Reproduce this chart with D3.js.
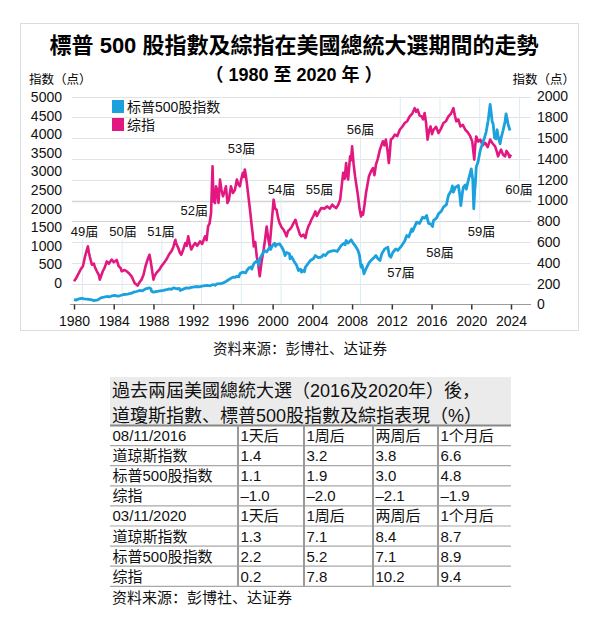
<!DOCTYPE html>
<html><head><meta charset="utf-8">
<script src="https://cdn.jsdelivr.net/npm/d3@7/dist/d3.min.js"></script>
<style>html,body{margin:0;padding:0;background:#fff}svg{display:block}</style>
</head><body>
<svg id="c" width="594" height="643"></svg>
<script>
// ---------- DATA ----------
const title = "標普 500 股指數及綜指在美國總統大選期間的走勢";
const subtitle = "（ 1980 至 2020 年 ）";
const axisTitleLeft = "指数（点）";
const axisTitleRight = "指数（点）";
const seriesNames = ["标普500股指数", "综指"];
const xTicks = [1980,1984,1988,1992,1996,2000,2004,2008,2012,2016,2020,2024];
const leftTicks = [0,500,1000,1500,2000,2500,3000,3500,4000,4500,5000];
const rightTicks = [0,200,400,600,800,1000,1200,1400,1600,1800,2000];
const rightTickLabels = ["0","200","400","600","800","1000","1200","1400","1500","1800","2000"];
// 标普500股指数 (read against right axis)
const spx = [[1980.0,48],[1980.2,42],[1980.5,55],[1980.8,60],[1981.0,54],[1981.5,50],[1981.8,44],[1982.0,38],[1982.4,45],[1982.7,64],[1983.0,70],[1983.3,77],[1983.6,74],[1983.8,82],[1984.1,87],[1984.4,80],[1984.6,84],[1985.0,96],[1985.4,100],[1985.8,109],[1986.0,118],[1986.3,125],[1986.6,135],[1986.9,132],[1987.2,150],[1987.6,160],[1987.75,150],[1987.8,128],[1988.0,119],[1988.5,128],[1989.0,135],[1989.3,142],[1989.6,150],[1989.8,146],[1990.0,160],[1990.4,150],[1990.6,155],[1990.7,135],[1990.8,140],[1991.0,148],[1991.3,160],[1991.6,158],[1991.8,165],[1992.3,173],[1992.6,170],[1992.9,176],[1993.4,183],[1993.7,180],[1994.0,192],[1994.2,185],[1994.4,199],[1994.8,200],[1995.2,215],[1995.6,240],[1996.0,263],[1996.2,260],[1996.4,272],[1996.6,266],[1996.7,295],[1997.0,312],[1997.3,305],[1997.4,327],[1997.6,350],[1997.8,360],[1997.9,340],[1998.1,391],[1998.3,410],[1998.5,420],[1998.6,375],[1998.7,439],[1999.0,490],[1999.2,519],[1999.4,505],[1999.7,551],[1999.8,530],[2000.0,570],[2000.2,590],[2000.3,560],[2000.4,575],[2000.7,583],[2000.9,555],[2001.1,519],[2001.25,470],[2001.4,500],[2001.7,487],[2001.75,440],[2001.9,460],[2002.2,407],[2002.4,380],[2002.6,327],[2002.8,340],[2002.9,311],[2003.1,330],[2003.2,315],[2003.3,359],[2003.8,423],[2004.1,440],[2004.3,471],[2004.6,450],[2004.9,455],[2005.1,480],[2005.3,470],[2005.6,503],[2006.0,515],[2006.2,519],[2006.5,510],[2006.9,567],[2007.2,590],[2007.3,575],[2007.4,615],[2007.6,590],[2007.9,622],[2008.1,590],[2008.3,567],[2008.6,519],[2008.75,470],[2008.8,430],[2008.9,359],[2009.0,380],[2009.2,295],[2009.4,343],[2009.7,400],[2009.9,423],[2010.2,450],[2010.4,471],[2010.6,440],[2010.8,423],[2011.0,490],[2011.3,535],[2011.6,551],[2011.75,470],[2011.9,455],[2012.1,500],[2012.4,535],[2012.6,520],[2013.0,567],[2013.3,610],[2013.5,663],[2013.7,650],[2014.0,727],[2014.1,705],[2014.5,792],[2014.8,780],[2015.1,840],[2015.3,830],[2015.5,856],[2015.7,780],[2015.9,776],[2016.1,750],[2016.2,808],[2016.5,830],[2016.7,872],[2017.0,900],[2017.2,936],[2017.5,960],[2017.7,1048],[2018.0,1100],[2018.1,1140],[2018.2,1080],[2018.4,1128],[2018.7,1144],[2018.85,1050],[2018.95,952],[2019.1,1070],[2019.2,1128],[2019.4,1150],[2019.5,1110],[2019.7,1192],[2020.0,1304],[2020.15,1200],[2020.25,920],[2020.35,1100],[2020.4,1150],[2020.5,1320],[2020.7,1380],[2020.9,1481],[2021.1,1540],[2021.3,1593],[2021.5,1660],[2021.7,1769],[2021.9,1923],[2022.0,1850],[2022.1,1760],[2022.2,1737],[2022.35,1600],[2022.5,1593],[2022.6,1680],[2022.7,1620],[2022.9,1545],[2023.0,1600],[2023.2,1673],[2023.4,1760],[2023.5,1833],[2023.6,1790],[2023.7,1737],[2023.9,1673]];
// 综指 (read against left axis)
const comp = [[1980.0,45],[1980.2,120],[1980.4,225],[1980.7,380],[1980.9,450],[1981.1,700],[1981.2,800],[1981.4,985],[1981.5,820],[1981.6,700],[1981.8,490],[1982.0,520],[1982.1,430],[1982.3,315],[1982.5,220],[1982.6,90],[1982.9,315],[1983.1,420],[1983.3,580],[1983.5,520],[1983.6,560],[1983.8,630],[1984.0,560],[1984.1,580],[1984.3,620],[1984.5,450],[1984.7,400],[1984.8,315],[1985.1,350],[1985.3,315],[1985.5,270],[1985.8,180],[1986.1,0],[1986.4,-70],[1986.6,20],[1986.8,90],[1987.0,220],[1987.2,450],[1987.4,620],[1987.6,760],[1987.7,620],[1987.8,450],[1988.0,90],[1988.1,180],[1988.3,270],[1988.6,360],[1988.8,450],[1989.0,520],[1989.3,630],[1989.6,780],[1989.8,850],[1990.0,960],[1990.2,1165],[1990.3,1050],[1990.5,940],[1990.65,820],[1990.8,760],[1991.0,900],[1991.2,1075],[1991.35,1000],[1991.5,1255],[1991.65,1050],[1991.8,900],[1992.0,1000],[1992.2,1075],[1992.4,1000],[1992.7,1120],[1992.9,1050],[1993.2,1255],[1993.35,1150],[1993.5,1520],[1993.65,1600],[1993.8,1880],[1993.95,3135],[1994.05,2200],[1994.2,2150],[1994.3,2600],[1994.4,2510],[1994.55,2150],[1994.7,2780],[1994.85,2500],[1995.0,2330],[1995.15,2450],[1995.3,2600],[1995.45,2150],[1995.6,2240],[1995.8,2600],[1996.0,2420],[1996.2,2500],[1996.4,2780],[1996.55,2650],[1996.7,2600],[1996.85,2800],[1997.0,2960],[1997.1,2850],[1997.2,3050],[1997.3,2900],[1997.4,2690],[1997.6,2240],[1997.75,1900],[1997.9,1520],[1998.0,1300],[1998.1,985],[1998.25,1100],[1998.4,715],[1998.55,500],[1998.7,180],[1998.9,600],[1999.1,900],[1999.25,1200],[1999.4,1520],[1999.55,1200],[1999.7,985],[1999.9,1610],[2000.1,2240],[2000.25,2000],[2000.4,1970],[2000.55,1750],[2000.7,1610],[2000.9,1500],[2001.1,1430],[2001.25,1350],[2001.4,1255],[2001.55,1400],[2001.7,1430],[2001.9,1500],[2002.1,1610],[2002.3,1700],[2002.45,1550],[2002.6,1430],[2002.75,1300],[2002.9,1255],[2003.1,1300],[2003.3,1210],[2003.45,1400],[2003.6,1520],[2003.75,1600],[2003.9,1700],[2004.1,1800],[2004.3,1925],[2004.45,1800],[2004.6,1880],[2004.75,1950],[2004.9,2015],[2005.2,2000],[2005.5,2060],[2005.75,2000],[2006.0,2105],[2006.2,2050],[2006.4,2015],[2006.6,2100],[2006.8,2240],[2006.95,2600],[2007.1,2960],[2007.25,2800],[2007.4,3225],[2007.5,2900],[2007.6,2780],[2007.7,3100],[2007.8,3405],[2007.9,3300],[2008.0,3675],[2008.15,3200],[2008.3,2870],[2008.45,2600],[2008.6,2330],[2008.75,2000],[2008.9,1790],[2009.0,1900],[2009.1,1835],[2009.25,2100],[2009.4,2420],[2009.55,2650],[2009.7,2870],[2009.9,3000],[2010.1,3090],[2010.25,2900],[2010.4,3180],[2010.6,3350],[2010.8,3585],[2010.95,3700],[2011.1,3810],[2011.25,3700],[2011.4,3855],[2011.55,3600],[2011.7,3225],[2011.8,3500],[2011.9,3855],[2012.1,3900],[2012.3,3990],[2012.55,3950],[2012.8,4120],[2013.05,4200],[2013.3,4300],[2013.55,4350],[2013.8,4480],[2014.05,4550],[2014.3,4700],[2014.45,4600],[2014.6,4660],[2014.8,4500],[2015.0,4480],[2015.15,4400],[2015.3,4570],[2015.45,4300],[2015.6,3855],[2015.75,4100],[2015.9,4210],[2016.05,4000],[2016.2,4120],[2016.45,4200],[2016.7,4030],[2016.95,4150],[2017.2,4300],[2017.45,4350],[2017.7,4480],[2017.95,4550],[2018.2,4700],[2018.35,4500],[2018.5,4345],[2018.7,4400],[2018.9,4210],[2019.15,4250],[2019.4,4120],[2019.65,4050],[2019.9,3940],[2020.1,3800],[2020.3,3315],[2020.4,3700],[2020.5,3940],[2020.7,3800],[2020.9,3855],[2021.15,3700],[2021.4,3765],[2021.65,3650],[2021.9,3855],[2022.15,3750],[2022.4,3675],[2022.55,3550],[2022.7,3405],[2022.85,3500],[2023.0,3585],[2023.2,3450],[2023.4,3405],[2023.55,3550],[2023.7,3495],[2023.85,3380],[2024.0,3450]];
// election labels (label value read against right axis), vertical guide year
const elections = [
  {label:"49届", lx:1981.06, year:1980.85, v:654, dir:"down"},
  {label:"50届", lx:1984.93, year:1984.85, v:654, dir:"down"},
  {label:"51届", lx:1988.76, year:1988.85, v:654, dir:"down"},
  {label:"52届", lx:1992.1,  year:1992.85, v:865, dir:"down"},
  {label:"53届", lx:1996.87, year:1996.85, v:1460, dir:"down"},
  {label:"54届", lx:2000.9,  year:2000.85, v:1067, dir:"down"},
  {label:"55届", lx:2004.72, year:2004.85, v:1067, dir:"down"},
  {label:"56届", lx:2008.85, year:2008.85, v:1644, dir:"down"},
  {label:"57届", lx:2012.93, year:2012.85, v:260, dir:"up"},
  {label:"58届", lx:2016.86, year:2016.85, v:452, dir:"up"},
  {label:"59届", lx:2021.04, year:2020.85, v:654, dir:"up"},
  {label:"60届", lx:2024.8,  year:2024.85, v:1058, dir:"up"}
];
const source = "资料来源：彭博社、达证券";
const tableTitle = ["過去兩屆美國總統大選（2016及2020年）後，", "道瓊斯指數、標普500股指數及綜指表現（%）"];
const tableRows = [
  ["08/11/2016","1天后","1周后","两周后","1个月后"],
  ["道琼斯指数","1.4","3.2","3.8","6.6"],
  ["标普500股指数","1.1","1.9","3.0","4.8"],
  ["综指","–1.0","–2.0","–2.1","–1.9"],
  ["03/11/2020","1天后","1周后","两周后","1个月后"],
  ["道琼斯指数","1.3","7.1","8.4","8.7"],
  ["标普500股指数","2.2","5.2","7.1","8.9"],
  ["综指","0.2","7.8","10.2","9.4"]
];

// ---------- DRAW ----------
const FONT = "'Liberation Sans', Arial, 'Noto Sans CJK SC', sans-serif";
const BLUE = "#1ba1de", MAG = "#e2177f";
const svg = d3.select("#c").style("font-family", FONT);
svg.append("rect").attr("width",594).attr("height",643).attr("fill","#fff");
svg.append("rect").attr("x",20.5).attr("y",23.5).attr("width",558).attr("height",307)
   .attr("fill","#fff").attr("stroke","#dcdcdc");

const x = d3.scaleLinear().domain([1980,2024]).range([74,511]);
const yL = d3.scaleLinear().domain([0,5000]).range([283,97]);
const yR = d3.scaleLinear().domain([0,2000]).range([304.5,96.5]);

svg.append("text").attr("x",294).attr("y",53).attr("text-anchor","middle")
  .attr("font-size",22).attr("font-weight","bold").text(title);
svg.append("text").attr("x",294).attr("y",81).attr("text-anchor","middle")
  .attr("font-size",18).attr("font-weight","bold").text(subtitle);
svg.append("text").attr("x",29).attr("y",84).attr("font-size",12.5).text(axisTitleLeft);
svg.append("text").attr("x",575).attr("y",84).attr("text-anchor","end").attr("font-size",12.5).text(axisTitleRight);

// gridlines (right axis)
svg.append("g").selectAll("line").data(rightTicks.slice(1)).join("line")
  .attr("x1",72).attr("x2",531).attr("y1",d=>Math.round(yR(d))+0.5).attr("y2",d=>Math.round(yR(d))+0.5)
  .attr("stroke",d=>(d===1000||d===800)?"#d4d4d4":"#e3e3e3").attr("stroke-width",d=>(d===1000)?1.6:1);

// election guide lines
svg.append("g").selectAll("line").data(elections).join("line")
  .attr("x1",d=>x(d.year)).attr("x2",d=>x(d.year))
  .attr("y1",d=>d.dir==="down"? yR(d.v)+3 : yR(d.v)-15)
  .attr("y2",d=>d.dir==="down"? yR(0) : yR(2000))
  .attr("stroke","#dcecf5").attr("stroke-width",1);

// axes
const axisB = d3.axisBottom(x).tickValues(xTicks).tickFormat(d3.format("d")).tickSize(5).tickPadding(4);
const gx = svg.append("g").attr("transform","translate(0,304.5)").call(axisB);
gx.select(".domain").attr("d","M70,0H531").attr("stroke","#9a9a9a");
gx.selectAll(".tick line").attr("stroke","#333").attr("stroke-width",1.5);
gx.selectAll("text").attr("font-size",14).attr("font-family",FONT).attr("fill","#111").attr("dy","0.9em");

const axisLft = d3.axisLeft(yL).tickValues(leftTicks).tickFormat(d3.format("d")).tickSize(0).tickPadding(0);
const gl = svg.append("g").attr("transform","translate(62,0)").call(axisLft);
gl.select(".domain").remove();
gl.selectAll("text").attr("font-size",14).attr("font-family",FONT).attr("fill","#111");

const axisRt = d3.axisRight(yR).tickValues(rightTicks).tickFormat((d,i)=>rightTickLabels[i]).tickSize(0).tickPadding(0);
const gr = svg.append("g").attr("transform","translate(537,0)").call(axisRt);
gr.select(".domain").remove();
gr.selectAll("text").attr("font-size",14).attr("font-family",FONT).attr("fill","#111");

// series
const lineR = d3.line().x(d=>x(d[0])).y(d=>yR(d[1]));
const lineL = d3.line().x(d=>x(d[0])).y(d=>yL(d[1]));
svg.append("path").datum(comp).attr("d",lineL).attr("fill","none").attr("stroke",MAG).attr("stroke-width",2.6).attr("stroke-linejoin","round");
svg.append("path").datum(spx).attr("d",lineR).attr("fill","none").attr("stroke",BLUE).attr("stroke-width",2.8).attr("stroke-linejoin","round");

// election labels
svg.append("g").selectAll("text").data(elections).join("text")
  .attr("x",d=>x(d.lx)).attr("y",d=>yR(d.v)).attr("text-anchor","middle")
  .attr("font-size",13).attr("fill","#111")
  .attr("stroke","#fff").attr("stroke-width",3).attr("paint-order","stroke")
  .text(d=>d.label);

// legend
const leg = svg.append("g");
[BLUE, MAG].forEach((c,i)=>{
  leg.append("rect").attr("x",112).attr("y",100+i*18).attr("width",12).attr("height",13).attr("fill",c);
  leg.append("text").attr("x",127).attr("y",111.5+i*18).attr("font-size",14).attr("fill","#111").text(seriesNames[i]);
});

// source
svg.append("text").attr("x",300).attr("y",354).attr("text-anchor","middle").attr("font-size",14.5).attr("fill","#111").text(source);

// ---------- TABLE ----------
const tx0 = 110, tx1 = 511, colX = [110,238,304,373,438,511];
const hdrTop = 377, rowTop = 425.5, rowH = 20.1;
svg.append("rect").attr("x",tx0).attr("y",hdrTop).attr("width",tx1-tx0).attr("height",rowTop-hdrTop).attr("fill","#ebebeb");
svg.append("g").selectAll("text").data(tableTitle).join("text")
  .attr("x",112).attr("y",(d,i)=>397+i*25).attr("font-size",18).attr("fill","#111").text(d=>d);
const tg = svg.append("g");
tableRows.forEach((r,i)=>{
  const top = rowTop + i*rowH;
  r.forEach((c,j)=>{
    tg.append("text").attr("x",colX[j]+2.5).attr("y",top+15.5).attr("font-size",15).attr("fill","#111").text(c);
  });
});
tg.selectAll("line.h").data(d3.range(tableRows.length+1)).join("line").attr("class","h")
  .attr("x1",tx0).attr("x2",tx1).attr("y1",i=>rowTop+i*rowH).attr("y2",i=>rowTop+i*rowH)
  .attr("stroke",i=>i===0?"#888":"#a8a8a8").attr("stroke-width",i=>i===0?2:1.2);
tg.selectAll("line.v").data(colX.slice(1,5)).join("line").attr("class","v")
  .attr("x1",d=>d).attr("x2",d=>d).attr("y1",rowTop).attr("y2",rowTop+tableRows.length*rowH)
  .attr("stroke","#9a9a9a").attr("stroke-width",2);
svg.append("text").attr("x",112).attr("y",603).attr("font-size",15).attr("fill","#111").text(source);
</script>
</body></html>
